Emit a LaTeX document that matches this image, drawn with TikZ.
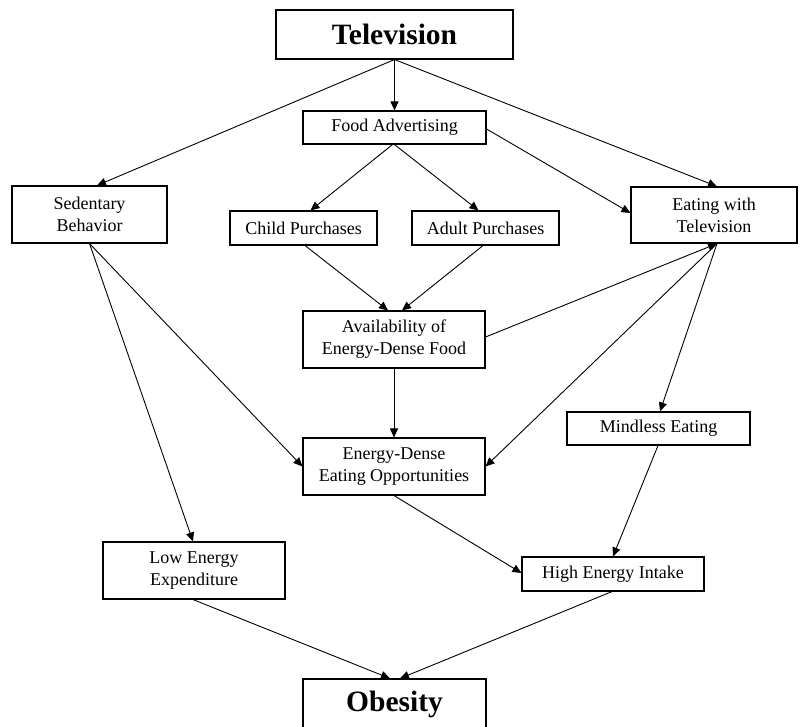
\documentclass[tikz,border=0pt]{standalone}
\usepackage{fontspec}
\setmainfont{Liberation Serif}
\usetikzlibrary{arrows.meta}
\begin{document}
\begin{tikzpicture}[x=1pt,y=-1pt,
  box/.style={draw=black,line width=1.1pt,fill=white,inner sep=0pt,align=center,
    font=\fontsize{18}{22}\selectfont},
  bigbox/.style={box,font=\fontsize{29.5}{32}\selectfont\bfseries},
  arr/.style={draw=black,line width=0.9pt,-{Triangle[length=9pt,width=8pt]}}]
\clip (0,0) rectangle (802,727);
\fill[white] (0,0) rectangle (802,727);
\node[bigbox,minimum width=237pt,minimum height=49pt] (tv) at (394.5,34.5) {Television};
\node[box,minimum width=183pt,minimum height=33pt] (fa) at (394.5,127.5) {Food Advertising};
\node[box,minimum width=155pt,minimum height=57pt] (sed) at (89.5,214.5) {Sedentary\\Behavior};
\node[box,minimum width=147pt,minimum height=34pt] (child) at (303.5,228) {Child Purchases};
\node[box,minimum width=147pt,minimum height=34pt] (adult) at (485.5,228) {Adult Purchases};
\node[box,minimum width=166pt,minimum height=56pt] (ewtv) at (714,215) {Eating with\\Television};
\node[box,minimum width=182pt,minimum height=57pt] (avail) at (394,339.5) {Availability of\\Energy-Dense Food};
\node[box,minimum width=182pt,minimum height=57pt] (edeo) at (394,466.5) {Energy-Dense\\Eating Opportunities};
\node[box,minimum width=183pt,minimum height=33pt] (mind) at (658.5,428.5) {Mindless Eating};
\node[box,minimum width=182pt,minimum height=57pt] (lee) at (194,570.5) {Low Energy\\Expenditure};
\node[box,minimum width=182pt,minimum height=34pt] (hei) at (613,574) {High Energy Intake};
\node[bigbox,minimum width=183pt,minimum height=50pt] (ob) at (394.5,704) {Obesity};

\draw[arr] (tv.south) -- (fa.north);
\draw[arr] (tv.south) -- ([xshift=7.5pt]sed.north);
\draw[arr] (tv.south) -- ([xshift=3pt]ewtv.north);
\draw[arr] ([xshift=-2pt]fa.south) -- ([xshift=7pt]child.north);
\draw[arr] (fa.south) -- ([xshift=-7pt]adult.north);
\draw[arr] ([yshift=-1.5pt]fa.east) -- ([yshift=2pt]ewtv.west);
\draw[arr] ([xshift=1.5pt]child.south) -- ([xshift=-6pt]avail.north);
\draw[arr] ([xshift=-2.5pt]adult.south) -- ([xshift=8pt]avail.north);
\draw[arr] ([yshift=2.5pt]avail.east) -- ([xshift=3pt]ewtv.south);
\draw[arr] ([xshift=3pt]ewtv.south) -- (edeo.east);
\draw[arr] ([xshift=3pt]ewtv.south) -- ([xshift=1.5pt]mind.north);
\draw[arr] (avail.south) -- (edeo.north);
\draw[arr] (sed.south) -- ([xshift=-1pt]lee.north);
\draw[arr] (sed.south) -- (edeo.west);
\draw[arr] (edeo.south) -- ([yshift=1pt]hei.west);
\draw[arr] ([xshift=-0.5pt]mind.south) -- (hei.north);
\draw[arr] ([xshift=-1pt]lee.south) -- ([xshift=-4.5pt]ob.north);
\draw[arr] ([xshift=-1pt]hei.south) -- ([xshift=5.5pt]ob.north);
\end{tikzpicture}
\end{document}
